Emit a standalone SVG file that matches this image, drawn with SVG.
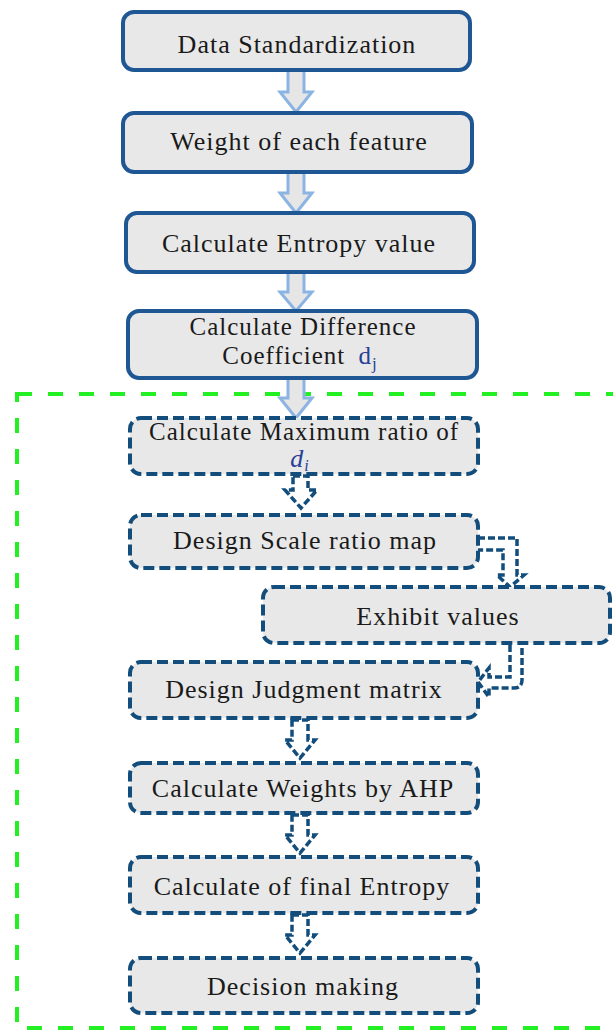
<svg xmlns="http://www.w3.org/2000/svg" width="613" height="1030" viewBox="0 0 613 1030">
<style>
.solid{fill:#e8e8e8;stroke:#1f5694;stroke-width:4}
.dash{fill:#e8e8e8;stroke:#124d7c;stroke-width:4;stroke-dasharray:11 5}
.t{font-family:"Liberation Serif","Times New Roman",serif;font-size:26px;letter-spacing:1px;fill:#1a1a1a;text-anchor:middle}
.s{font-size:25px}
.blue{fill:#2a3f96}
.arr{fill:#e6e6e6;stroke:#8cb4e2;stroke-width:3;stroke-linejoin:miter}
.darr{fill:none;stroke:#124d7c;stroke-width:3.5;stroke-dasharray:7 3}
.green{fill:none;stroke:#22f022;stroke-width:4;stroke-dasharray:15 16}
</style>
<rect class="green" x="17" y="394" width="610" height="634"/>
<g id="connectors">
<path class="arr" d="M288,70 L304,70 L304,92 L312,92 L296,112 L280,92 L288,92 Z"/>
<path class="arr" d="M288,172 L304,172 L304,193 L312,193 L296,213 L280,193 L288,193 Z"/>
<path class="arr" d="M288,272 L304,272 L304,292 L312,292 L296,311 L280,292 L288,292 Z"/>
<path class="arr" d="M288,378 L304,378 L304,398 L312,398 L296,418 L280,398 L288,398 Z"/>
<path class="darr" d="M293,476 L308,476 L308,490 L317,490 L301,508 L285,490 L293,490 Z"/>
<path class="darr" d="M478,538 L517,538 L517,575 L524,575 L510,587 L497,575 L503,575 L503,550 L478,550"/>
<path class="darr" d="M510,645 L510,677 L489,677 L489,668 L478,682 L489,697 L489,688 L514,688 Q522,688 522,680 L522,645"/>
<path class="darr" d="M292,720 L308,720 L308,740 L315,740 L300,758 L285,740 L292,740 Z"/>
<path class="darr" d="M292,815 L308,815 L308,835 L315,835 L300,853 L285,835 L292,835 Z"/>
<path class="darr" d="M292,915 L308,915 L308,935 L315,935 L300,953 L285,935 L292,935 Z"/>
</g>
<g id="n1"><rect class="solid" x="123" y="12" width="347" height="58" rx="11"/><text class="t" x="297" y="53">Data Standardization</text></g>
<g id="n2"><rect class="solid" x="123" y="113" width="349" height="59" rx="11"/><text class="t" x="299" y="150">Weight of each feature</text></g>
<g id="n3"><rect class="solid" x="126" y="213" width="348" height="59" rx="11"/><text class="t" x="299" y="252">Calculate Entropy value</text></g>
<g id="n4"><rect class="solid" x="128" y="311" width="349" height="67" rx="11"/><text class="t s" x="303" y="335">Calculate Difference</text><text class="t s" x="300" y="364">Coefficient <tspan class="blue" dx="6">d</tspan><tspan class="blue" font-size="17" dy="5">j</tspan></text></g>
<g id="n5"><rect class="dash" x="130" y="418" width="348" height="56" rx="11"/><text class="t s" x="304" y="440">Calculate Maximum ratio of</text><text class="t blue" x="300" y="467" font-size="23" font-style="italic">d<tspan font-size="16" dy="4">i</tspan></text></g>
<g id="n6"><rect class="dash" x="130" y="515" width="348" height="53" rx="11"/><text class="t" x="305" y="549">Design Scale ratio map</text></g>
<g id="n7"><rect class="dash" x="263" y="587" width="347" height="56" rx="11"/><text class="t" x="438" y="625">Exhibit values</text></g>
<g id="n8"><rect class="dash" x="130" y="662" width="348" height="56" rx="11"/><text class="t" x="304" y="698">Design Judgment matrix</text></g>
<g id="n9"><rect class="dash" x="130" y="763" width="348" height="50" rx="11"/><text class="t" x="303" y="797">Calculate Weights by AHP</text></g>
<g id="n10"><rect class="dash" x="130" y="857" width="348" height="56" rx="11"/><text class="t" x="302" y="895">Calculate of final Entropy</text></g>
<g id="n11"><rect class="dash" x="130" y="958" width="348" height="55" rx="11"/><text class="t" x="303" y="995">Decision making</text></g>
</svg>
